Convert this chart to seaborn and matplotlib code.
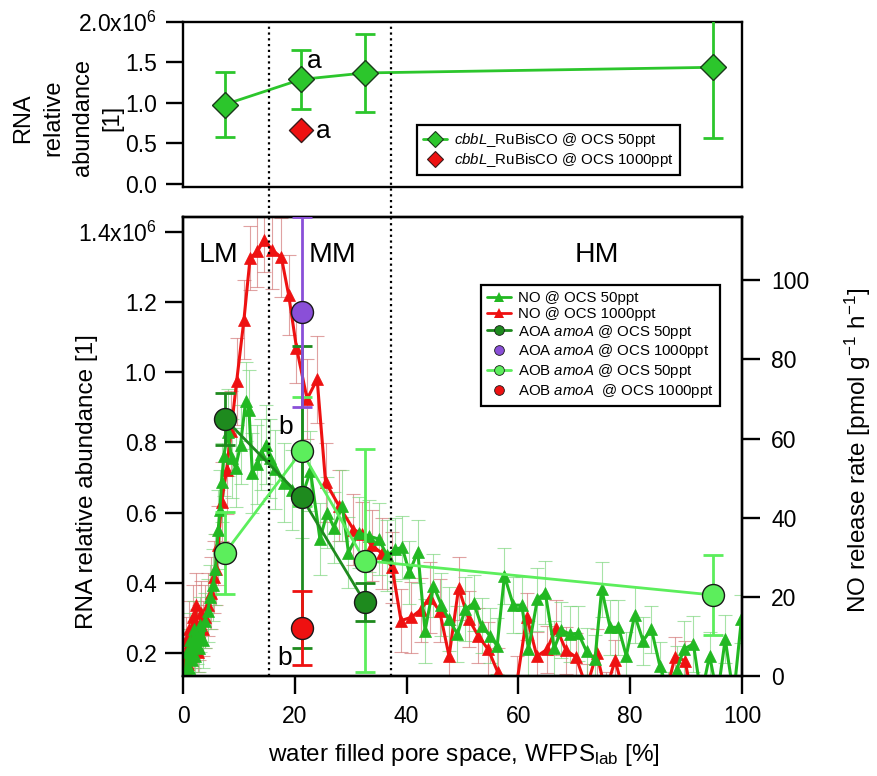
import numpy as np
import pandas as pd
import matplotlib
matplotlib.use("Agg")
import matplotlib.pyplot as plt
import seaborn as sns
from matplotlib.lines import Line2D

sns.set_style("ticks")
plt.rcParams['font.family'] = ['Liberation Sans', 'DejaVu Sans']
plt.rcParams['mathtext.fontset'] = 'custom'
plt.rcParams['mathtext.rm'] = 'Liberation Sans'
plt.rcParams['mathtext.it'] = 'Liberation Sans:italic'
plt.rcParams['mathtext.bf'] = 'Liberation Sans:bold'
for k in ['text.color', 'axes.labelcolor', 'xtick.color', 'ytick.color', 'axes.edgecolor']:
    plt.rcParams[k] = 'black'

# ---------------- data ----------------
# top panel: cbbL RuBisCO (x10^6)
cbbl_x = [7.5, 21.1, 32.5, 94.8]
cbbl_50 = [0.98, 1.29, 1.37, 1.44]
cbbl_50_err = [0.40, 0.36, 0.48, 0.87]
cbbl_1000_x = [21.1]
cbbl_1000 = [0.67]

# bottom panel: amoA transcripts (x10^6, left axis)
aoa_x = [7.5, 21.2, 32.5]
aoa_50 = [0.867, 0.644, 0.345]
aoa_50_err = [0.073, 0.43, 0.055]
aoa_1000_x = [21.2]
aoa_1000 = [1.172]
aoa_1000_err = [0.27]
aob_x = [7.5, 21.2, 32.5, 94.8]
aob_50 = [0.485, 0.775, 0.463, 0.365]
aob_50_err = [0.117, 0.155, 0.317, 0.113]
aob_1000_x = [21.2]
aob_1000 = [0.271]
aob_1000_err = [0.106]

# NO release rate (right axis)
no1000_x = [0.3, 0.6, 0.9, 1.1, 1.4, 1.7, 2.0, 2.3, 2.6, 2.9, 3.2, 3.6, 4.0, 4.5, 5.0,
            5.5, 5.9, 6.3, 6.9, 7.8, 8.6, 9.6, 10.9, 12.0, 13.3, 14.5, 15.9, 17.6, 18.9,
            20.3, 22.2, 24.0, 25.5, 27.9, 30.5, 32.0, 33.8, 35.6, 37.4, 39.0, 40.8, 42.5,
            44.1, 45.9, 47.6, 49.3, 51.1, 52.8, 54.6, 56.3, 58.0, 59.8, 61.5, 63.3, 65.1,
            66.8, 68.5, 70.3, 72.2, 74.0, 75.6, 77.3, 79.2, 81.0, 82.8, 84.6, 86.3, 88.0,
            89.8, 91.2]
no1000_y = [2, 9, 3, 12, 5, 15, 8, 18, 6, 11, 16, 12, 15, 18, 21,
            25, 27, 33, 44, 52, 62, 74.5, 90, 105.6, 107.3, 110.2, 107.7, 105.8, 96.3,
            83, 70, 75, 49, 43, 37, 36, 33, 31, 27.5, 14, 14.8, 16.7,
            19.8, 16.5, 5, 22.2, 14.4, 10.2, 6.7, 1, -12, -1, 15, 5, 6.7,
            12.2, 6.5, 4.8, -3, 5.8, -4, 4, -6, -10, -8, -12, -5, 4.8,
            3.9, -6]
no1000_err = [4, 6, 5, 7, 6, 8, 6, 8, 5, 7, 8, 7, 8, 8, 9,
              9, 9, 10, 10, 11, 10, 11, 10, 8, 9, 8, 10, 10, 10,
              9, 10, 11, 10, 9, 9, 8, 9, 9, 9, 8, 9, 8,
              9, 8, 8, 8, 7, 7, 7, 6, 6, 6, 6, 6, 6,
              7, 6, 6, 6, 6, 5, 5, 5, 5, 5, 5, 5, 5,
              5, 5]
no50_x = [0.4, 0.7, 1.0, 1.3, 1.6, 1.9, 2.2, 2.5, 2.8, 3.1, 3.5, 3.9, 4.4, 4.9, 5.4,
          5.8, 6.3, 6.6, 6.9, 7.3, 8.0, 8.7, 9.4, 10.3, 11.2, 11.8, 12.4, 13.3, 14.0,
          14.8, 15.6, 16.5, 18.0, 19.5, 21.2, 22.8, 24.5, 25.8, 27.0, 28.5, 29.6, 31.4,
          33.2, 35.0, 36.5, 38.0, 39.2, 40.5, 42.0, 43.3, 44.8, 46.2, 47.5, 49.1, 50.5,
          52.0, 53.4, 54.9, 56.2, 57.5, 59.1, 60.6, 61.8, 63.4, 64.8, 66.4, 67.7, 69.2,
          70.7, 72.2, 73.7, 74.9, 76.4, 77.9, 79.3, 80.8, 82.3, 83.8, 85.3, 86.8, 88.3,
          89.6, 91.3, 92.7, 94.2, 95.6, 97.0, 98.5, 99.9]
no50_y = [1, 6, 2, 9, 4, 12, 5, 10, 7, 13, 9, 14, 16.5, 20, 23,
          27, 37, 42, 49, 55.6, 61.6, 55, 52.6, 58.5, 69.4, 67.3, 51.3, 53.5, 56,
          58.5, 55, 52.2, 48.9, 47, 45, 51.8, 34.6, 41.3, 37.5, 43, 31.2, 36.2,
          35.4, 34.6, 30.5, 32, 32.5, 26.2, 31.4, 11.4, 22.8, 18, 14.4, 10.6, 16.9,
          18.4, 12.7, 10.2, 7.6, 25.3, 17.9, 17.9, 6.8, 19.4, 21.1, 7.0, 11.6, 10.6,
          10.8, 6.2, 4.3, 21.9, 12.3, 12.3, 5.1, 15.4, 8.9, 11.8, 2.6, -4, 1.5,
          6.8, 8.1, -5, 5.1, -5, 9.3, -5, 14.4]
no50_err = [5, 6, 5, 7, 6, 7, 6, 7, 6, 7, 7, 7, 8, 8, 9,
            9, 10, 10, 10, 10, 11, 10, 10, 10, 10, 10, 10, 10, 9,
            10, 10, 10, 10, 10, 10, 10, 9, 9, 9, 9, 9, 9,
            9, 9, 9, 8, 8, 8, 8, 8, 8, 8, 8, 7, 8,
            7, 7, 7, 7, 7, 7, 7, 7, 8, 8, 7, 7, 7,
            7, 6, 6, 7, 7, 7, 6, 7, 6, 6, 6, 5, 6,
            7, 7, 5, 6, 5, 6, 5, 6]

zone_bounds = [15.3, 37.2]

# ---------------- colours ----------------
C_NO50 = '#22B822'
C_NO1000 = '#EE1111'
C_AOA50 = '#1E8A1E'
C_AOA1000 = '#8A4FD8'
C_AOB50 = '#5CEE5C'
C_RED = '#EE1111'
C_CBBL = '#2CC62C'

FIG_W, FIG_H = 878, 776
fig = plt.figure(figsize=(FIG_W / 100, FIG_H / 100), dpi=100)

L, R = 183, 742
top_t, top_b = 22, 187
bot_t, bot_b = 217, 676
ax_top = fig.add_axes([L / FIG_W, 1 - top_b / FIG_H, (R - L) / FIG_W, (top_b - top_t) / FIG_H])
ax = fig.add_axes([L / FIG_W, 1 - bot_b / FIG_H, (R - L) / FIG_W, (bot_b - bot_t) / FIG_H])
tw = ax.twinx()
ax.set_zorder(3)
tw.set_zorder(2)
ax.patch.set_visible(False)

SP_LW = 1.7
TICK_FS = 16.5
for a in (ax_top, ax, tw):
    for s in a.spines.values():
        s.set_linewidth(SP_LW)
        s.set_color('black')
        s.set_visible(True)

# ---------------- top panel ----------------
df_c = pd.DataFrame({'x': cbbl_x, 'y': cbbl_50})
ax_top.errorbar(cbbl_x, cbbl_50, yerr=cbbl_50_err, fmt='none', ecolor=C_CBBL,
                elinewidth=2, capsize=7, capthick=2, zorder=3)
sns.lineplot(data=df_c, x='x', y='y', ax=ax_top, color=C_CBBL, linewidth=2,
             estimator=None, sort=False, legend=False, zorder=4,
             marker='D', markersize=13, markerfacecolor=C_CBBL,
             markeredgecolor='#1a3a1a', markeredgewidth=1.0)
df_cr = pd.DataFrame({'x': cbbl_1000_x, 'y': cbbl_1000})
sns.scatterplot(data=df_cr, x='x', y='y', ax=ax_top, color=C_RED, marker='D', s=150,
                edgecolor='#3a1a1a', linewidth=1.0, legend=False, zorder=5)
ax_top.set_xlim(0, 100)
ax_top.set_ylim(-0.04, 2.0)
ax_top.set_yticks([0, 0.5, 1.0, 1.5, 2.0])
ax_top.set_yticklabels(['0.0', '0.5', '1.0', '1.5', '2.0x10$^{6}$'])
ax_top.set_xticks([])
ax_top.tick_params(axis='y', direction='out', length=12.5, width=SP_LW,
                   labelsize=TICK_FS, pad=6)
ax_top.set_xlabel('')
ax_top.set_ylabel('')
ax_top.text(22.2, 1.436, 'a', fontsize=19, ha='left', va='baseline')
ax_top.text(23.7, 0.572, 'a', fontsize=19, ha='left', va='baseline')

top_handles = [
    Line2D([], [], color=C_CBBL, lw=2, marker='D', markersize=8,
           markerfacecolor=C_CBBL, markeredgecolor='#1a3a1a', markeredgewidth=0.8),
    Line2D([], [], color='none', lw=0, marker='D', markersize=8,
           markerfacecolor=C_RED, markeredgecolor='#3a1a1a', markeredgewidth=0.8),
]
top_labels = [r'$\it{cbbL}$_RuBisCO @ OCS 50ppt', r'$\it{cbbL}$_RuBisCO @ OCS 1000ppt']
lg1 = ax_top.legend(top_handles, top_labels, loc='upper left',
                    bbox_to_anchor=((416.7 - L) / (R - L), (top_b - 125) / (top_b - top_t)),
                    borderaxespad=0, fontsize=10.8, frameon=True, fancybox=False,
                    edgecolor='black', handlelength=1.6, handletextpad=0.5,
                    labelspacing=0.15, borderpad=0.4, framealpha=1)
lg1.get_frame().set_linewidth(1.6)

# ---------------- bottom panel: NO (right axis) ----------------
tw.errorbar(no1000_x, no1000_y, yerr=no1000_err, fmt='none', ecolor='#D07070',
            elinewidth=0.8, capsize=5, capthick=0.8, alpha=0.65, zorder=1)
tw.errorbar(no50_x, no50_y, yerr=no50_err, fmt='none', ecolor='#78D478',
            elinewidth=0.8, capsize=5, capthick=0.8, alpha=0.65, zorder=1)
df_n1 = pd.DataFrame({'x': no1000_x, 'y': no1000_y})
df_n5 = pd.DataFrame({'x': no50_x, 'y': no50_y})
sns.lineplot(data=df_n1, x='x', y='y', ax=tw, color=C_NO1000, linewidth=2.2,
             estimator=None, sort=False, legend=False, zorder=3,
             marker='^', markersize=9, markerfacecolor=C_NO1000,
             markeredgecolor=C_NO1000, markeredgewidth=0.5)
sns.lineplot(data=df_n5, x='x', y='y', ax=tw, color=C_NO50, linewidth=2.2,
             estimator=None, sort=False, legend=False, zorder=4,
             marker='^', markersize=9, markerfacecolor=C_NO50,
             markeredgecolor=C_NO50, markeredgewidth=0.5)
tw.set_ylim(0, 116)
tw.set_yticks([0, 20, 40, 60, 80, 100])
tw.tick_params(axis='y', direction='out', length=13, width=SP_LW,
               labelsize=TICK_FS, pad=8)
tw.set_xlabel('')
tw.set_ylabel('')

# ---------------- bottom panel: amoA (left axis) ----------------
ax.errorbar(aob_x, aob_50, yerr=aob_50_err, fmt='none', ecolor=C_AOB50,
            elinewidth=2, capsize=7, capthick=2, zorder=4)
ax.errorbar(aoa_x, aoa_50, yerr=aoa_50_err, fmt='none', ecolor=C_AOA50,
            elinewidth=2, capsize=7, capthick=2, zorder=4)
ax.errorbar(aoa_1000_x, aoa_1000, yerr=aoa_1000_err, fmt='none', ecolor=C_AOA1000,
            elinewidth=2, capsize=7, capthick=2, zorder=4)
ax.errorbar(aob_1000_x, aob_1000, yerr=aob_1000_err, fmt='none', ecolor=C_RED,
            elinewidth=2, capsize=7, capthick=2, zorder=4)

df_aob = pd.DataFrame({'x': aob_x, 'y': aob_50})
df_aoa = pd.DataFrame({'x': aoa_x, 'y': aoa_50})
sns.lineplot(data=df_aob, x='x', y='y', ax=ax, color=C_AOB50, linewidth=2,
             estimator=None, sort=False, legend=False, zorder=5)
sns.lineplot(data=df_aoa, x='x', y='y', ax=ax, color=C_AOA50, linewidth=2,
             estimator=None, sort=False, legend=False, zorder=5)
CS = 250
for xs, ys, col in [(aob_x, aob_50, C_AOB50), (aoa_x, aoa_50, C_AOA50),
                    (aoa_1000_x, aoa_1000, C_AOA1000), (aob_1000_x, aob_1000, C_RED)]:
    sns.scatterplot(x=xs, y=ys, ax=ax, color=col, s=CS, edgecolor='#1a1a1a',
                    linewidth=1.0, legend=False, zorder=6)

ax.set_xlim(0, 100)
ax.set_ylim(0.134, 1.443)
ax.set_yticks([0.2, 0.4, 0.6, 0.8, 1.0, 1.2, 1.4])
ax.set_yticklabels(['0.2', '0.4', '0.6', '0.8', '1.0', '1.2', '1.4x10$^{6}$'])
ax.set_xticks([0, 20, 40, 60, 80, 100])
ax.tick_params(axis='both', direction='out', length=13, width=SP_LW,
               labelsize=TICK_FS)
ax.tick_params(axis='y', pad=6)
ax.tick_params(axis='x', pad=8)
ax.set_xlabel('')
ax.set_ylabel('')

# dotted zone boundaries spanning both panels
ext = (bot_b - top_t) / (bot_b - bot_t)
for xb in zone_bounds:
    ax.axvline(xb, ymin=0, ymax=ext, clip_on=False, color='black', lw=1.6,
               ls=(0, (1, 1.6)), zorder=2)

ax.text(6.3, 1.314, 'LM', fontsize=20.5, ha='center', va='baseline')
ax.text(26.7, 1.314, 'MM', fontsize=20.5, ha='center', va='baseline')
ax.text(74.0, 1.314, 'HM', fontsize=20.5, ha='center', va='baseline')
ax.text(17.1, 0.824, 'b', fontsize=19, ha='left', va='baseline')
ax.text(16.8, 0.164, 'b', fontsize=19, ha='left', va='baseline')

bot_handles = [
    Line2D([], [], color=C_NO50, lw=2, marker='^', markersize=7, markeredgewidth=0),
    Line2D([], [], color=C_NO1000, lw=2, marker='^', markersize=7, markeredgewidth=0),
    Line2D([], [], color=C_AOA50, lw=2, marker='o', markersize=7,
           markeredgecolor='#1a1a1a', markeredgewidth=0.6),
    Line2D([], [], color='none', lw=0, marker='o', markersize=7,
           markerfacecolor=C_AOA1000, markeredgecolor='#1a1a1a', markeredgewidth=0.6),
    Line2D([], [], color=C_AOB50, lw=2, marker='o', markersize=7,
           markerfacecolor=C_AOB50, markeredgecolor='#1a1a1a', markeredgewidth=0.6),
    Line2D([], [], color='none', lw=0, marker='o', markersize=7,
           markerfacecolor=C_RED, markeredgecolor='#1a1a1a', markeredgewidth=0.6),
]
bot_labels = ['NO @ OCS 50ppt', 'NO @ OCS 1000ppt',
              r'AOA $\it{amoA}$ @ OCS 50ppt', r'AOA $\it{amoA}$ @ OCS 1000ppt',
              r'AOB $\it{amoA}$ @ OCS 50ppt', r'AOB $\it{amoA}$  @ OCS 1000ppt']
lg2 = ax.legend(bot_handles, bot_labels, loc='upper left',
                bbox_to_anchor=((480.7 - L) / (R - L), (bot_b - 285) / (bot_b - bot_t)),
                borderaxespad=0, fontsize=10.8, frameon=True, fancybox=False,
                edgecolor='black', handlelength=1.6, handletextpad=0.5,
                labelspacing=0.12, borderpad=0.4, framealpha=1)
lg2.get_frame().set_linewidth(1.6)
lg2.set_zorder(10)

# axis titles
fig.text(68 / FIG_W, 1 - 118 / FIG_H, 'RNA\nrelative\nabundance\n[1]', rotation=90,
         ha='center', va='center', multialignment='center', fontsize=17,
         linespacing=1.45)
fig.text(87 / FIG_W, 1 - 482 / FIG_H, 'RNA relative abundance [1]', rotation=90,
         ha='center', va='center', fontsize=17.5)
fig.text(858 / FIG_W, 1 - 450 / FIG_H, r'NO release rate [pmol g$^{-1}$ h$^{-1}$]',
         rotation=90, ha='center', va='center', fontsize=17.5)
fig.text(464 / FIG_W, 1 - 755 / FIG_H, r'water filled pore space, WFPS$_{\rm lab}$ [%]',
         ha='center', va='center', fontsize=17.5)

fig.savefig('out.png', dpi=100)
